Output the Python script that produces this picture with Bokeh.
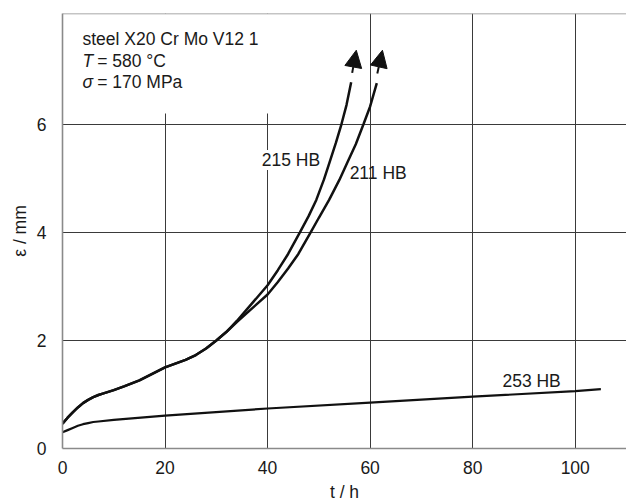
from bokeh.plotting import figure
from bokeh.models import (Range1d, FixedTicker, Label, BoxAnnotation, Span,
                          Arrow, NormalHead)
from bokeh.embed import file_html
from bokeh.resources import INLINE

# ---- data ----
T_215 = [0, 1, 2, 3, 4, 5, 6, 7, 8, 10, 12, 15, 20, 22, 24, 26, 28, 30, 32, 34,
         36, 38, 40, 42, 44, 46.3, 48, 49.5, 51, 52.1, 53.3, 54.4, 55.4, 56.3]
E_215 = [0.46, 0.57, 0.67, 0.76, 0.84, 0.90, 0.95, 0.99, 1.02, 1.08, 1.15, 1.26,
         1.50, 1.57, 1.64, 1.73, 1.85, 2.0, 2.16, 2.36, 2.58, 2.80, 3.02, 3.30,
         3.60, 4.0, 4.30, 4.60, 4.98, 5.30, 5.65, 6.0, 6.36, 6.78]

T_211 = [0, 1, 2, 3, 4, 5, 6, 7, 8, 10, 12, 15, 20, 22, 24, 26, 28, 30, 32, 34,
         36, 38, 40, 42, 44, 46, 48.4, 50, 52, 54, 55.6, 57.2, 58.7, 60, 61.3]
E_211 = [0.46, 0.57, 0.67, 0.76, 0.84, 0.90, 0.95, 0.99, 1.02, 1.08, 1.15, 1.26,
         1.50, 1.57, 1.64, 1.73, 1.85, 2.0, 2.16, 2.34, 2.51, 2.68, 2.85, 3.08,
         3.33, 3.60, 4.0, 4.27, 4.60, 4.97, 5.30, 5.63, 6.0, 6.33, 6.76]

T_253 = [0, 1, 2, 3, 4, 5, 6, 7, 10, 20, 40, 60, 80, 100, 105]
E_253 = [0.30, 0.34, 0.38, 0.42, 0.45, 0.47, 0.49, 0.50, 0.53, 0.61, 0.74, 0.85,
         0.96, 1.06, 1.10]

# arrow heads at the ends of the 215 HB and 211 HB curves (start, tip)
ARROW_START_T = [56.5, 61.4]
ARROW_START_E = [6.95, 6.94]
ARROW_TIP_T = [57.3, 62.4]
ARROW_TIP_E = [7.37, 7.37]

CURVE_LABELS = ["215 HB", "211 HB", "253 HB"]
CURVE_LABEL_T = [38.85, 56.0, 85.8]
CURVE_LABEL_E = [5.34, 5.10, 1.24]

X_TICKS = [0, 20, 40, 60, 80, 100]
Y_TICKS = [0, 2, 4, 6]
X_MAX = 110
Y_MAX = 8.05

FONT = "Liberation Sans"
FS = "17.5px"
TXT = "#1a1a1a"
FRAME = "#8a8a8a"
GRID = "#3a3a3a"

p = figure(width=626, height=504, output_backend="svg", toolbar_location=None,
           x_range=Range1d(0, X_MAX), y_range=Range1d(0, Y_MAX),
           min_border_left=62, min_border_right=0, min_border_top=13,
           min_border_bottom=55)
p.outline_line_color = None
p.background_fill_color = "white"

for ax in (p.xaxis[0], p.yaxis[0]):
    ax.axis_line_color = FRAME
    ax.axis_line_width = 1.6
    ax.major_tick_line_color = None
    ax.minor_tick_line_color = None
    ax.major_label_text_font = FONT
    ax.major_label_text_font_size = FS
    ax.major_label_text_color = TXT
    ax.axis_label_text_font = FONT
    ax.axis_label_text_font_size = FS
    ax.axis_label_text_font_style = "normal"
    ax.axis_label_text_color = TXT

p.xaxis.ticker = FixedTicker(ticks=X_TICKS)
p.yaxis.ticker = FixedTicker(ticks=Y_TICKS)
p.xaxis.major_label_standoff = 6
p.yaxis.major_label_standoff = 10
p.xaxis.axis_label = "t / h"
p.yaxis.axis_label = "ε / mm"
p.xaxis.axis_label_standoff = 5
p.yaxis.axis_label_standoff = 4

p.xgrid.ticker = FixedTicker(ticks=X_TICKS)
p.ygrid.ticker = FixedTicker(ticks=Y_TICKS)
p.grid.grid_line_color = GRID
p.grid.grid_line_width = 1
p.grid.level = "image"

# white panel behind the header text (hides the grid there)
p.add_layout(BoxAnnotation(left=0, right=50, bottom=6.2, top=Y_MAX,
                           fill_color="white", fill_alpha=1.0,
                           line_color=None, level="underlay"))

# top frame line (open on the right side)
p.add_layout(Span(location=Y_MAX, dimension="width", line_color=FRAME,
                  line_width=1.6))

# curves
p.line(T_215, E_215, line_color="#111111", line_width=2.5)
p.line(T_211, E_211, line_color="#111111", line_width=2.5)
p.line(T_253, E_253, line_color="#111111", line_width=2.2)

for i in range(2):
    p.add_layout(Arrow(end=NormalHead(size=17, fill_color="#111111",
                                      line_color="#111111", line_width=1),
                       x_start=ARROW_START_T[i], y_start=ARROW_START_E[i],
                       x_end=ARROW_TIP_T[i], y_end=ARROW_TIP_E[i],
                       line_color="#111111", line_width=2))


def lab(x, y, text, italic=False, **kw):
    p.add_layout(Label(x=x, y=y, text=text, text_font=FONT, text_font_size=FS,
                       text_color=TXT, text_baseline="middle",
                       text_font_style="italic" if italic else "normal", **kw))


for i, txt in enumerate(CURVE_LABELS):
    kw = {}
    if i == 0:
        kw = dict(background_fill_color="white", background_fill_alpha=1.0)
    lab(CURVE_LABEL_T[i], CURVE_LABEL_E[i], txt, **kw)

# header text
HEAD_T = 3.9
HEAD_T2 = 6.76
HEAD_E = [7.57, 7.18, 6.79]
lab(HEAD_T, HEAD_E[0], "steel X20 Cr Mo V12 1")
lab(HEAD_T, HEAD_E[1], "T", italic=True)
lab(HEAD_T2, HEAD_E[1], "= 580 °C")
lab(HEAD_T, HEAD_E[2], "σ", italic=True)
lab(HEAD_T2, HEAD_E[2], "= 170 MPa")

open("out.html", "w").write(file_html(p, INLINE))
